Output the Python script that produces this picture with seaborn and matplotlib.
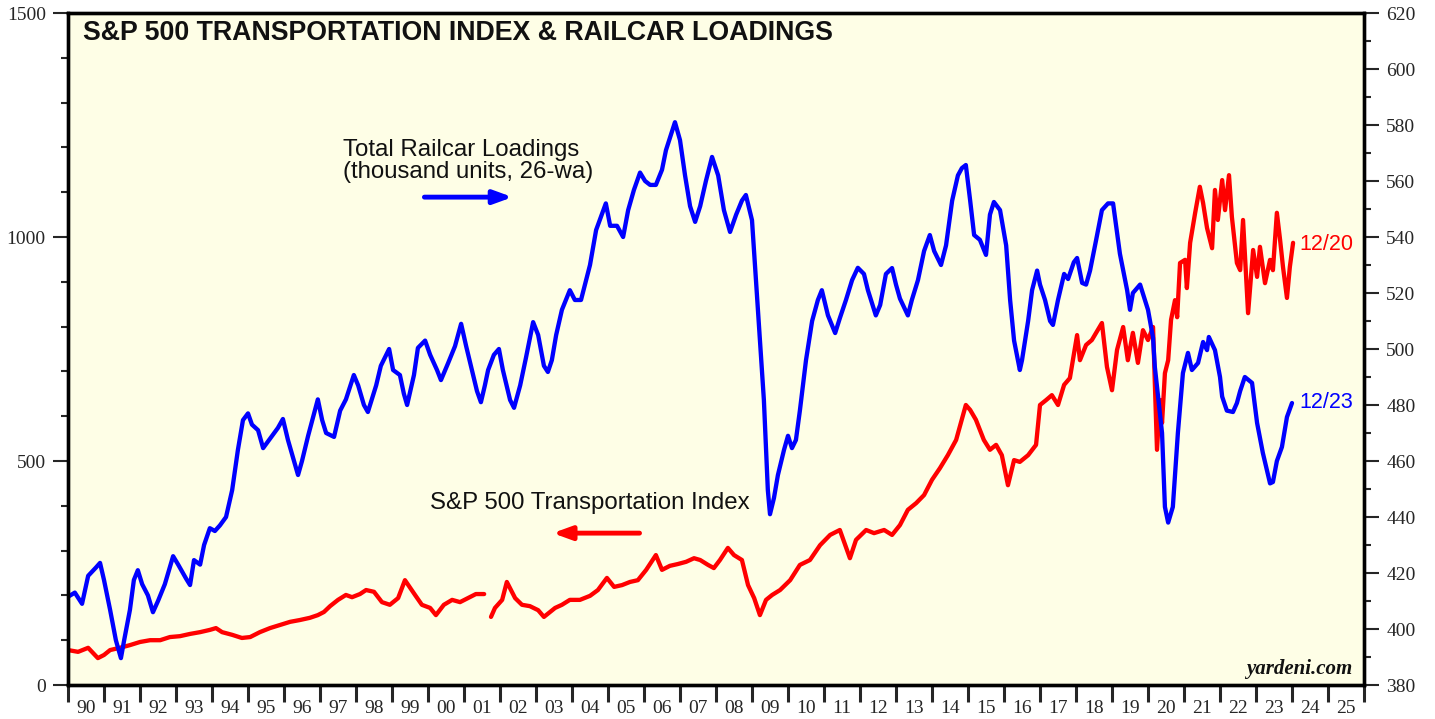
import numpy as np
import pandas as pd
import matplotlib
matplotlib.use("Agg")
import matplotlib.pyplot as plt
import matplotlib.ticker as mticker
import seaborn as sns

# Total railcar loadings (thousand units, 26-wa), right axis
rail_year = [1990.00, 1990.19, 1990.39, 1990.56, 1990.78, 1990.89, 1991.00, 1991.17, 1991.33, 1991.47,
             1991.56, 1991.72, 1991.83, 1991.94, 1992.06, 1992.22, 1992.36, 1992.50, 1992.69, 1992.92,
             1993.06, 1993.28, 1993.39, 1993.50, 1993.67, 1993.78, 1993.94, 1994.08, 1994.22, 1994.39,
             1994.56, 1994.72, 1994.86, 1995.00, 1995.11, 1995.28, 1995.42, 1995.67, 1995.83, 1995.97,
             1996.11, 1996.39, 1996.50, 1996.67, 1996.94, 1997.06, 1997.17, 1997.39, 1997.56, 1997.72,
             1997.94, 1998.06, 1998.22, 1998.33, 1998.56, 1998.69, 1998.92, 1999.03, 1999.22, 1999.33,
             1999.42, 1999.61, 1999.72, 1999.92, 2000.06, 2000.25, 2000.36, 2000.56, 2000.75, 2000.92,
             2001.06, 2001.22, 2001.36, 2001.47, 2001.58, 2001.67, 2001.83, 2001.97, 2002.08, 2002.28,
             2002.39, 2002.56, 2002.72, 2002.92, 2003.06, 2003.22, 2003.33, 2003.44, 2003.56, 2003.72,
             2003.94, 2004.08, 2004.25, 2004.36, 2004.50, 2004.67, 2004.94, 2005.06, 2005.25, 2005.42,
             2005.56, 2005.72, 2005.89, 2006.03, 2006.17, 2006.33, 2006.50, 2006.61, 2006.86, 2007.00,
             2007.14, 2007.28, 2007.42, 2007.56, 2007.72, 2007.89, 2008.06, 2008.22, 2008.39, 2008.56,
             2008.72, 2008.83, 2009.00, 2009.11, 2009.22, 2009.33, 2009.39, 2009.44, 2009.50, 2009.61,
             2009.72, 2009.89, 2010.00, 2010.11, 2010.22, 2010.33, 2010.50, 2010.67, 2010.83, 2010.94,
             2011.11, 2011.31, 2011.44, 2011.61, 2011.78, 2011.94, 2012.11, 2012.22, 2012.44, 2012.56,
             2012.72, 2012.89, 2013.00, 2013.11, 2013.33, 2013.44, 2013.61, 2013.78, 2013.94, 2014.06,
             2014.25, 2014.39, 2014.56, 2014.72, 2014.83, 2014.94, 2015.06, 2015.17, 2015.33, 2015.50,
             2015.61, 2015.72, 2015.89, 2016.06, 2016.17, 2016.28, 2016.44, 2016.50, 2016.67, 2016.78,
             2016.92, 2017.00, 2017.14, 2017.28, 2017.36, 2017.50, 2017.67, 2017.78, 2017.94, 2018.03,
             2018.17, 2018.28, 2018.39, 2018.56, 2018.72, 2018.89, 2019.03, 2019.22, 2019.42, 2019.50,
             2019.58, 2019.78, 2020.00, 2020.14, 2020.19, 2020.39, 2020.47, 2020.56, 2020.69, 2020.83,
             2020.97, 2021.11, 2021.22, 2021.39, 2021.53, 2021.64, 2021.69, 2021.86, 2022.00, 2022.06,
             2022.19, 2022.36, 2022.47, 2022.56, 2022.69, 2022.89, 2023.03, 2023.19, 2023.39, 2023.47,
             2023.58, 2023.72, 2023.86, 2024.00]
rail_units = [411.5, 413.0, 409.0, 419.0, 422.0, 423.6, 417.5, 406.8, 396.0, 389.6,
              396.0, 406.8, 417.5, 421.0, 416.0, 412.0, 406.0, 410.0, 416.0, 426.0,
              423.0, 418.0, 415.7, 424.6, 423.0, 430.0, 436.0, 435.0, 437.0, 440.0,
              449.6, 464.0, 474.6, 477.0, 473.0, 471.0, 464.6, 469.0, 471.8, 475.0,
              467.5, 455.0, 460.0, 469.0, 482.0, 474.6, 470.0, 468.6, 478.0, 482.0,
              490.7, 487.0, 480.0, 477.5, 487.0, 494.0, 500.0, 492.5, 490.7, 484.0,
              480.0, 490.7, 500.4, 503.0, 497.9, 492.5, 488.9, 495.0, 501.0, 509.0,
              501.0, 492.5, 485.0, 481.0, 487.0, 492.5, 497.9, 500.0, 492.5, 481.8,
              479.0, 487.0, 496.8, 509.6, 505.0, 494.0, 491.8, 496.0, 505.0, 514.0,
              521.0, 517.5, 517.5, 523.0, 530.0, 542.5, 552.0, 544.0, 544.0, 540.0,
              549.6, 556.8, 563.0, 560.0, 558.6, 558.6, 564.0, 571.0, 581.0, 574.6,
              562.0, 551.0, 545.4, 551.0, 560.0, 568.6, 562.0, 549.6, 541.8, 548.0,
              553.0, 555.0, 546.0, 524.6, 503.0, 481.8, 464.0, 449.6, 441.0, 446.8,
              455.0, 464.0, 469.0, 464.6, 467.5, 478.0, 496.0, 510.0, 517.5, 521.0,
              512.0, 505.7, 511.0, 517.5, 524.6, 529.0, 526.8, 521.0, 512.0, 515.7,
              526.8, 528.9, 523.0, 518.0, 512.0, 517.5, 524.6, 535.0, 540.7, 535.0,
              530.0, 537.0, 553.0, 562.0, 564.6, 565.7, 553.0, 540.7, 539.0, 533.6,
              548.0, 552.5, 549.6, 537.0, 517.5, 503.0, 492.5, 496.0, 510.0, 521.0,
              528.0, 523.0, 517.5, 510.0, 508.6, 517.5, 526.8, 525.0, 531.0, 532.5,
              523.6, 523.0, 528.0, 539.0, 549.6, 552.0, 552.0, 534.0, 521.0, 514.0,
              520.0, 523.0, 514.0, 504.0, 493.6, 470.0, 443.6, 438.0, 443.6, 470.0,
              491.4, 498.6, 492.5, 495.0, 502.5, 499.6, 504.3, 499.6, 490.0, 483.0,
              478.0, 477.5, 480.7, 485.0, 490.0, 487.9, 473.6, 462.9, 452.0, 452.5,
              460.0, 465.0, 475.7, 480.7]

# S&P 500 Transportation Index, left axis (NaN = break in the series)
trans_year = [1990.00, 1990.28, 1990.56, 1990.83, 1991.00, 1991.17, 1991.44, 1991.72, 1992.00, 1992.28,
              1992.56, 1992.83, 1993.11, 1993.39, 1993.67, 1993.94, 1994.11, 1994.28, 1994.56, 1994.83,
              1995.06, 1995.33, 1995.61, 1995.89, 1996.17, 1996.44, 1996.72, 1996.94, 1997.11, 1997.28,
              1997.50, 1997.72, 1997.89, 1998.11, 1998.28, 1998.50, 1998.72, 1998.94, 1999.17, 1999.36,
              1999.64, 1999.83, 2000.06, 2000.22, 2000.44, 2000.67, 2000.89, 2001.11, 2001.33, 2001.56,
              2001.69, 2001.75, 2001.86, 2002.06, 2002.19, 2002.42, 2002.61, 2002.83, 2003.06, 2003.22,
              2003.53, 2003.72, 2003.94, 2004.22, 2004.50, 2004.72, 2004.97, 2005.17, 2005.39, 2005.61,
              2005.83, 2006.06, 2006.33, 2006.50, 2006.72, 2006.94, 2007.17, 2007.39, 2007.56, 2007.78,
              2007.94, 2008.11, 2008.33, 2008.50, 2008.72, 2008.89, 2009.06, 2009.22, 2009.39, 2009.56,
              2009.78, 2010.06, 2010.33, 2010.61, 2010.89, 2011.17, 2011.44, 2011.72, 2011.89, 2012.17,
              2012.39, 2012.67, 2012.89, 2013.11, 2013.33, 2013.56, 2013.78, 2014.00, 2014.22, 2014.44,
              2014.67, 2014.94, 2015.06, 2015.22, 2015.44, 2015.61, 2015.78, 2015.94, 2016.11, 2016.28,
              2016.44, 2016.67, 2016.89, 2017.00, 2017.17, 2017.33, 2017.50, 2017.67, 2017.83, 2018.03,
              2018.11, 2018.28, 2018.44, 2018.72, 2018.86, 2019.00, 2019.14, 2019.31, 2019.44, 2019.58,
              2019.72, 2019.86, 2020.00, 2020.14, 2020.25, 2020.33, 2020.39, 2020.47, 2020.56, 2020.64,
              2020.75, 2020.81, 2020.89, 2021.03, 2021.08, 2021.17, 2021.31, 2021.44, 2021.53, 2021.64,
              2021.78, 2021.86, 2021.94, 2022.06, 2022.14, 2022.25, 2022.33, 2022.47, 2022.56, 2022.64,
              2022.78, 2022.92, 2023.03, 2023.11, 2023.25, 2023.39, 2023.47, 2023.58, 2023.67, 2023.75,
              2023.86, 2023.94, 2024.03]
trans_index = [78, 74, 83, 60, 67, 78, 83, 89, 96, 100,
               100, 107, 109, 114, 118, 123, 127, 118, 112, 105,
               107, 118, 127, 134, 141, 145, 150, 156, 163, 176,
               190, 201, 196, 203, 212, 208, 185, 179, 194, 234,
               201, 179, 172, 156, 179, 190, 185, 194, 203, 203,
               np.nan, 152, 172, 190, 230, 194, 179, 176, 167, 152,
               172, 179, 190, 190, 199, 212, 239, 219, 223, 230,
               234, 257, 290, 257, 266, 270, 275, 283, 279, 268,
               261, 279, 306, 290, 279, 223, 194, 156, 190, 201,
               212, 234, 268, 279, 312, 335, 346, 283, 324, 346,
               339, 346, 335, 357, 391, 406, 424, 458, 484, 513,
               547, 625, 614, 592, 547, 525, 536, 513, 446, 502,
               498, 513, 536, 625, 636, 647, 625, 670, 685, 781,
               725, 759, 770, 808, 710, 658, 748, 799, 725, 786,
               719, 792, 770, 799, 525, 636, 585, 696, 725, 815,
               859, 821, 942, 949, 886, 987, 1054, 1112, 1076, 1020,
               975, 1105, 1038, 1127, 1060, 1138, 1045, 942, 926, 1038,
               830, 971, 911, 978, 897, 949, 926, 1054, 993, 933,
               864, 933, 987]

year_labels = ["90", "91", "92", "93", "94", "95", "96", "97", "98", "99", "00", "01",
               "02", "03", "04", "05", "06", "07", "08", "09", "10", "11", "12", "13",
               "14", "15", "16", "17", "18", "19", "20", "21", "22", "23", "24", "25"]

rail = pd.DataFrame({"year": rail_year, "units": rail_units})
trans = pd.DataFrame({"year": trans_year, "index": trans_index})
trans["seg"] = trans["index"].isna().cumsum()
trans = trans.dropna()

sns.set_style("ticks")
plt.rcParams["font.family"] = ["Liberation Serif", "DejaVu Serif"]

fig = plt.figure(figsize=(14.35, 7.19), dpi=100)
ax = fig.add_axes([68 / 1435, 34 / 719, 1296 / 1435, 672 / 719])
ax.set_facecolor("#FEFEE6")

sns.lineplot(data=trans, x="year", y="index", units="seg", estimator=None,
             color="#FF0000", lw=3.1, ax=ax)
ax2 = ax.twinx()
sns.lineplot(data=rail, x="year", y="units", color="#0000FF", lw=3.1, ax=ax2)

ax.set_xlim(1990, 2026)
ax.set_ylim(0, 1500)
ax2.set_ylim(380, 620)
for a in (ax, ax2):
    a.set_xlabel("")
    a.set_ylabel("")
    for s in a.spines.values():
        s.set_linewidth(2.4)
        s.set_color("black")

# x axis: ticks at year boundaries, labels centered between them
ax.xaxis.set_major_locator(mticker.MultipleLocator(1))
ax.xaxis.set_major_formatter(mticker.NullFormatter())
ax.xaxis.set_minor_locator(mticker.FixedLocator([1990.5 + i for i in range(36)]))
ax.xaxis.set_minor_formatter(mticker.FixedFormatter(year_labels))
ax.tick_params(axis="x", which="major", direction="out", length=12, width=2.2)
ax.tick_params(axis="x", which="minor", length=0, labelsize=14, pad=11)

ax.yaxis.set_major_locator(mticker.MultipleLocator(500))
ax.yaxis.set_minor_locator(mticker.MultipleLocator(100))
ax.tick_params(axis="y", which="major", direction="out", length=11, width=1.5, labelsize=14, pad=5)
ax.tick_params(axis="y", which="minor", direction="out", length=5, width=1.5)

ax2.yaxis.set_major_locator(mticker.MultipleLocator(20))
ax2.yaxis.set_minor_locator(mticker.MultipleLocator(10))
ax2.tick_params(axis="y", which="major", direction="out", length=11, width=1.5, labelsize=14, pad=5)
ax2.tick_params(axis="y", which="minor", direction="out", length=5, width=1.5)

sans = ["Liberation Sans", "DejaVu Sans"]
ax.text(0.0116, 0.970, "S&P 500 TRANSPORTATION INDEX & RAILCAR LOADINGS", transform=ax.transAxes,
        ha="left", va="center", fontsize=19.3, fontweight="bold", family=sans, color="#111111")
ax.text(0.212, 0.812, "Total Railcar Loadings\n(thousand units, 26-wa)", transform=ax.transAxes,
        ha="left", va="top", fontsize=17.3, family=sans, linespacing=0.98, color="#111111")
ax.text(0.279, 0.271, "S&P 500 Transportation Index", transform=ax.transAxes,
        ha="left", va="center", fontsize=17.3, family=sans, color="#111111")
ax.text(0.991, 0.024, "yardeni.com", transform=ax.transAxes, ha="right", va="center",
        fontsize=15, fontweight="bold", fontstyle="italic", color="#111111")
ax.text(0.950, 0.655, "12/20", transform=ax.transAxes, ha="left", va="center",
        fontsize=15.5, family=sans, color="#FF0000")
ax.text(0.950, 0.420, "12/23", transform=ax.transAxes, ha="left", va="center",
        fontsize=15.5, family=sans, color="#0000FF")

ax.annotate("", xy=(0.343, 0.726), xytext=(0.275, 0.726), xycoords="axes fraction",
            arrowprops=dict(arrowstyle="-|>,head_length=1.1,head_width=0.4", color="#0000FF",
                            lw=3.5, shrinkA=0, shrinkB=0))
ax.annotate("", xy=(0.374, 0.226), xytext=(0.441, 0.226), xycoords="axes fraction",
            arrowprops=dict(arrowstyle="-|>,head_length=1.1,head_width=0.4", color="#FF0000",
                            lw=3.5, shrinkA=0, shrinkB=0))

fig.savefig("out.png", dpi=100)
